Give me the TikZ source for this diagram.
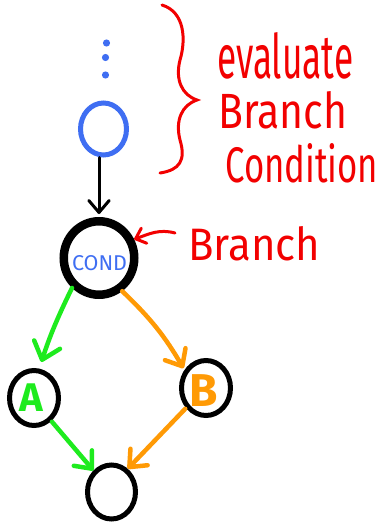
\documentclass[tikz,border=0pt]{standalone}
\usepackage{fontspec}
\usepackage{graphicx}
\setmainfont{Fira Sans}
\usetikzlibrary{arrows.meta,shapes.geometric}
\definecolor{inkblue}{HTML}{3F6EF2}
\definecolor{inkred}{HTML}{F20000}
\definecolor{inkgreen}{HTML}{1EEB1E}
\definecolor{inkorange}{HTML}{FF9A05}
\begin{document}
\begin{tikzpicture}[x=1pt,y=-1pt,
  state/.style={ellipse, draw=black, line width=5pt, inner sep=0pt,
                minimum width=49pt, minimum height=55pt},
  flow/.style={line width=4.5pt, line cap=round, line join=round},
  note/.style={inkred, anchor=base west, inner sep=0pt},
  barb/.style={-{Straight Barb[length=#1,width=1.7*#1,round]}},
  ]
\useasboundingbox (0,0) rectangle (385,525);

% the earlier part of the program, elided
\fill[inkblue] (106.5,43) circle (3.6);
\fill[inkblue] (105.5,57.5) circle (3.6);
\fill[inkblue] (105.5,75) circle (3.6);

% nodes
\node[state, draw=inkblue, minimum width=46pt, minimum height=52pt] (blue) at (103.5,129) {};
\node[state, line width=8.5pt, minimum width=70.5pt, minimum height=73.5pt,
      text=inkblue] (cond) at (99,258) {};
\node[text=inkblue, inner sep=0pt] (condlab) at (99.5,263)
      {\resizebox{55pt}{15pt}{\fontseries{m}\selectfont COND}};
\node[state] (A) at (34,398) {};
\node[font=\bfseries\fontsize{40}{40}\selectfont, text=inkgreen] (Alab) at (31.5,398) {A};
\node[state] (B) at (206,388) {};
\node[font=\bfseries\fontsize{46}{46}\selectfont, text=inkorange] (Blab) at (203.5,391) {B};
\node[state, minimum width=48pt, minimum height=54pt] (end) at (111.5,492) {};

% connectors
\draw[flow, line width=3pt, barb=12pt, shorten >=3pt] (blue.south -| cond.north) -- (cond.north);
\draw[flow, inkgreen, barb=16pt, shorten >=7pt] (cond.228) to[bend right=4] (A.80);
\draw[flow, inkorange, barb=14pt, shorten >=2pt] (cond.-55) to[bend left=8] (B.140);
\draw[flow, inkgreen, barb=14pt, shorten <=1pt] (A.-53) -- (end.130);
\draw[flow, inkorange, barb=14pt, shorten <=1pt] (B.225) -- (end.55);

% annotations
\draw[inkred, line width=3pt, line cap=round]
  (162,5) .. controls (185,12) and (186,40) .. (180,60)
          .. controls (175,80) and (182,95) .. (197,100)
          .. controls (182,105) and (175,120) .. (180,140)
          .. controls (186,160) and (180,170) .. (160,173);
\node[note] (t1) at (217,78) {\resizebox{136pt}{46pt}{evaluate}};
\node[note] (t2) at (218,128) {\resizebox{129pt}{37pt}{Branch}};
\node[note] (t3) at (225,182) {\resizebox{153pt}{39pt}{Condition}};
\node[note] (lbl) at (188,260) {\resizebox{132pt}{34pt}{Branch}};
\draw[inkred, line width=3pt, line cap=round, line join=round,
      -{Straight Barb[length=9pt,width=16pt,round]}]
  ([xshift=-13pt,yshift=27pt]lbl.base west) to[out=165,in=20] (cond.28);
\end{tikzpicture}
\end{document}
